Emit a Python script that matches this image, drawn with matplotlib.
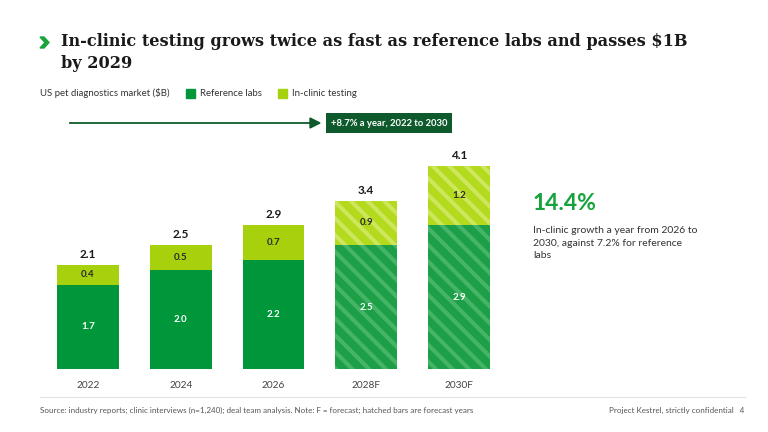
import numpy as np
import matplotlib.pyplot as plt

years = ["2022", "2024", "2026", "2028F", "2030F"]
ref_labs = [1.7, 2.0, 2.2, 2.5, 2.9]
in_clinic = [0.4, 0.5, 0.7, 0.9, 1.2]
forecast = [False, False, False, True, True]

W, H = 768, 432
GREEN = "#00973b"
LIME = "#a6d10c"
GREEN_F = "#1d9f47"
GREEN_STRIPE = "#46b467"
LIME_F = "#b3da1c"
LIME_STRIPE = "#cde65c"
DARK = "#0f5a2c"

plt.rcParams['font.family'] = ['Lato', 'DejaVu Sans']
plt.rcParams['hatch.linewidth'] = 3.0

fig = plt.figure(figsize=(7.68, 4.32), dpi=100)

def fx(px):
    return px / W

def fy(py):
    return 1 - py / H

ax = fig.add_axes([fx(37), fy(369), fx(510) - fx(37), fy(150) - fy(369)])
x = np.arange(len(years))
bw = 0.665
tot = np.array(ref_labs) + np.array(in_clinic)

for i in range(len(years)):
    if forecast[i]:
        ax.bar(x[i], ref_labs[i], bw, color=GREEN_F, linewidth=0)
        ax.bar(x[i], ref_labs[i], bw, facecolor="none", edgecolor=GREEN_STRIPE,
               hatch="\\\\", linewidth=0)
        ax.bar(x[i], in_clinic[i], bw, bottom=ref_labs[i], color=LIME_F, linewidth=0)
        ax.bar(x[i], in_clinic[i], bw, bottom=ref_labs[i], facecolor="none",
               edgecolor=LIME_STRIPE, hatch="\\\\", linewidth=0)
    else:
        ax.bar(x[i], ref_labs[i], bw, color=GREEN, linewidth=0)
        ax.bar(x[i], in_clinic[i], bw, bottom=ref_labs[i], color=LIME, linewidth=0)
    ax.text(x[i], ref_labs[i] / 2, f"{ref_labs[i]:.1f}", ha="center", va="center",
            color="white", fontsize=7, fontweight="bold")
    ax.text(x[i], ref_labs[i] + in_clinic[i] / 2, f"{in_clinic[i]:.1f}", ha="center",
            va="center", color="#2a2a2a", fontsize=7, fontweight="bold")
    ax.text(x[i], tot[i] + 0.1, f"{tot[i]:.1f}", ha="center", va="bottom",
            color="#1a1a1a", fontsize=8.5, fontweight="bold")

ax.set_xlim(-0.55, 4.55)
ax.set_ylim(0, 4.42)
ax.set_xticks(x)
ax.set_xticklabels(years, fontsize=7.3, color="#444444")
ax.tick_params(axis="x", length=0, pad=9)
ax.set_yticks([])
for s in ax.spines.values():
    s.set_visible(False)

# title with chevron marker
fig.add_artist(plt.Polygon([[fx(40), fy(37)], [fx(44), fy(37)], [fx(49), fy(42.5)],
                            [fx(44), fy(48)], [fx(40), fy(48)], [fx(45), fy(42.5)]],
                           closed=True, color="#1ba33d", transform=fig.transFigure))
fig.text(fx(61), fy(42), "In-clinic testing grows twice as fast as reference labs and passes $1B",
         fontsize=11.6, fontweight="bold", family="DejaVu Serif", color="#1a1a1a",
         va="center", ha="left")
fig.text(fx(61), fy(63), "by 2029", fontsize=11.6, fontweight="bold",
         family="DejaVu Serif", color="#1a1a1a", va="center", ha="left")

# legend row
fig.text(fx(40), fy(93), "US pet diagnostics market ($B)", fontsize=6.9, color="#333333",
         va="center")
fig.patches.append(plt.Rectangle((fx(186), fy(98)), fx(9), 9 / H, color=GREEN,
                                 transform=fig.transFigure))
fig.text(fx(200), fy(93), "Reference labs", fontsize=6.9, color="#333333", va="center")
fig.patches.append(plt.Rectangle((fx(278), fy(98)), fx(9), 9 / H, color=LIME,
                                 transform=fig.transFigure))
fig.text(fx(292), fy(93), "In-clinic testing", fontsize=6.9, color="#333333", va="center")

# CAGR arrow and box
fig.add_artist(plt.Line2D([fx(70), fx(312)], [fy(123), fy(123)], color=DARK, lw=1.3))
fig.add_artist(plt.Polygon([[fx(310), fy(118)], [fx(320), fy(123)], [fx(310), fy(128)]],
                           closed=True, color=DARK, transform=fig.transFigure))
fig.text(fx(389), fy(123), "+8.7% a year, 2022 to 2030", fontsize=6.8, color="white",
         fontweight="bold", ha="center", va="center",
         bbox=dict(boxstyle="square,pad=0.55", fc=DARK, ec="none"))

# right callout
fig.text(fx(533), fy(203), "14.4%", fontsize=16.5, fontweight="bold", color="#17a33c",
         va="center")
fig.text(fx(533), fy(243), "In-clinic growth a year from 2026 to\n2030, against 7.2% for reference\nlabs",
         fontsize=7.5, color="#333333", va="center", linespacing=1.45)

# footer
fig.add_artist(plt.Line2D([fx(40), fx(745)], [fy(397), fy(397)], color="#e3e3e3", lw=0.8))
fig.text(fx(40), fy(410), "Source: industry reports; clinic interviews (n=1,240); deal team analysis. "
         "Note: F = forecast; hatched bars are forecast years", fontsize=5.8, color="#555555",
         va="center")
fig.text(fx(744), fy(410), "Project Kestrel, strictly confidential   4", fontsize=5.8,
         color="#555555", va="center", ha="right")

fig.savefig("out.png", dpi=100)
